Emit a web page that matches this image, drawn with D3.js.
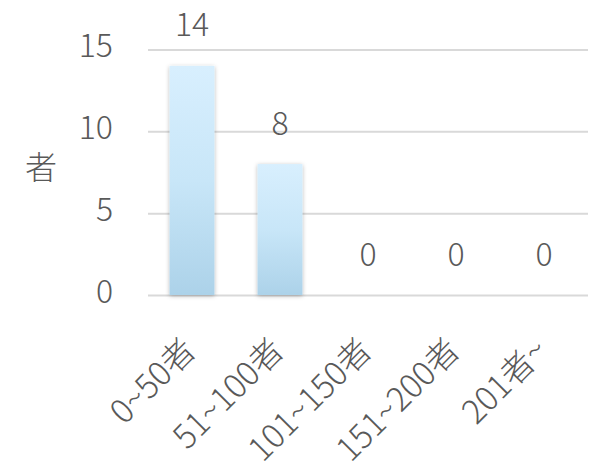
<!DOCTYPE html>
<html><head><meta charset="utf-8">
<script src="https://cdn.jsdelivr.net/npm/d3@7"></script>
<style>
html,body{margin:0;padding:0;background:#fff;}
svg text{font-family:"Noto Sans CJK JP","Noto Sans",sans-serif;fill:#595959;font-weight:300;}
</style></head>
<body>
<svg id="chart" width="592" height="469"></svg>
<script>
const categories = ["0~50者","51~100者","101~150者","151~200者","201者~"];
const values = [14, 8, 0, 0, 0];
const yTicks = [0, 5, 10, 15];
const yTitle = "者";

const svg = d3.select("#chart");
const plotLeft = 148, plotRight = 588, plotTop = 49.5, plotBottom = 295;

const x = d3.scaleBand().domain(categories).range([plotLeft, plotRight]).paddingInner(0.49).paddingOuter(0.245);
const y = d3.scaleLinear().domain([0, 15]).range([plotBottom, plotTop]);

const defs = svg.append("defs");
const grad = defs.append("linearGradient").attr("id","barGrad").attr("x1",0).attr("y1",0).attr("x2",0).attr("y2",1);
grad.append("stop").attr("offset","0%").attr("stop-color","#d8effe");
grad.append("stop").attr("offset","50%").attr("stop-color","#c8e6f8");
grad.append("stop").attr("offset","100%").attr("stop-color","#acd2e9");
const f = defs.append("filter").attr("id","shadow").attr("x","-30%").attr("y","-10%").attr("width","160%").attr("height","120%");
f.append("feDropShadow").attr("dx",0).attr("dy",1).attr("stdDeviation",2.2).attr("flood-color","#000").attr("flood-opacity",0.28);

// gridlines
const yAxis = d3.axisLeft(y).tickValues(yTicks).tickSize(-(plotRight-plotLeft)).tickPadding(35);
const gy = svg.append("g").attr("transform",`translate(${plotLeft},0)`).call(yAxis);
gy.select(".domain").remove();
gy.selectAll(".tick line").attr("stroke","#d9d9d9").attr("stroke-width",2);
gy.selectAll(".tick text").attr("font-size",32).attr("dy","0.22em").style("fill","#595959");

// bars
svg.append("g").selectAll("rect").data(values).join("rect")
  .attr("x",(d,i)=>x(categories[i]))
  .attr("y",d=>y(d))
  .attr("width",x.bandwidth())
  .attr("height",d=>y(0)-y(d))
  .attr("fill","url(#barGrad)")
  .attr("filter","url(#shadow)")
  .style("display",d=>d>0?null:"none");

// value labels
svg.append("g").selectAll("text").data(values).join("text")
  .attr("x",(d,i)=>x(categories[i])+x.bandwidth()/2)
  .attr("y",d=>y(d)-41)
  .attr("dy","0.36em")
  .attr("text-anchor","middle")
  .attr("font-size",32)
  .text(d=>d);

// category labels
const xAxis = d3.axisBottom(x).tickSize(0).tickPadding(0);
const gx = svg.append("g").attr("transform",`translate(0,${plotBottom})`).call(xAxis);
gx.select(".domain").remove();
gx.selectAll(".tick text")
  .attr("font-size",33)
  .attr("text-anchor","end")
  .attr("dy","0.75em")
  .attr("transform","translate(-12,40) rotate(-45)")
  .style("fill","#595959");

// y title
svg.append("text").attr("x",41).attr("y",168).attr("dy","0.35em").attr("text-anchor","middle").attr("font-size",32).text(yTitle);
</script>
</body></html>
